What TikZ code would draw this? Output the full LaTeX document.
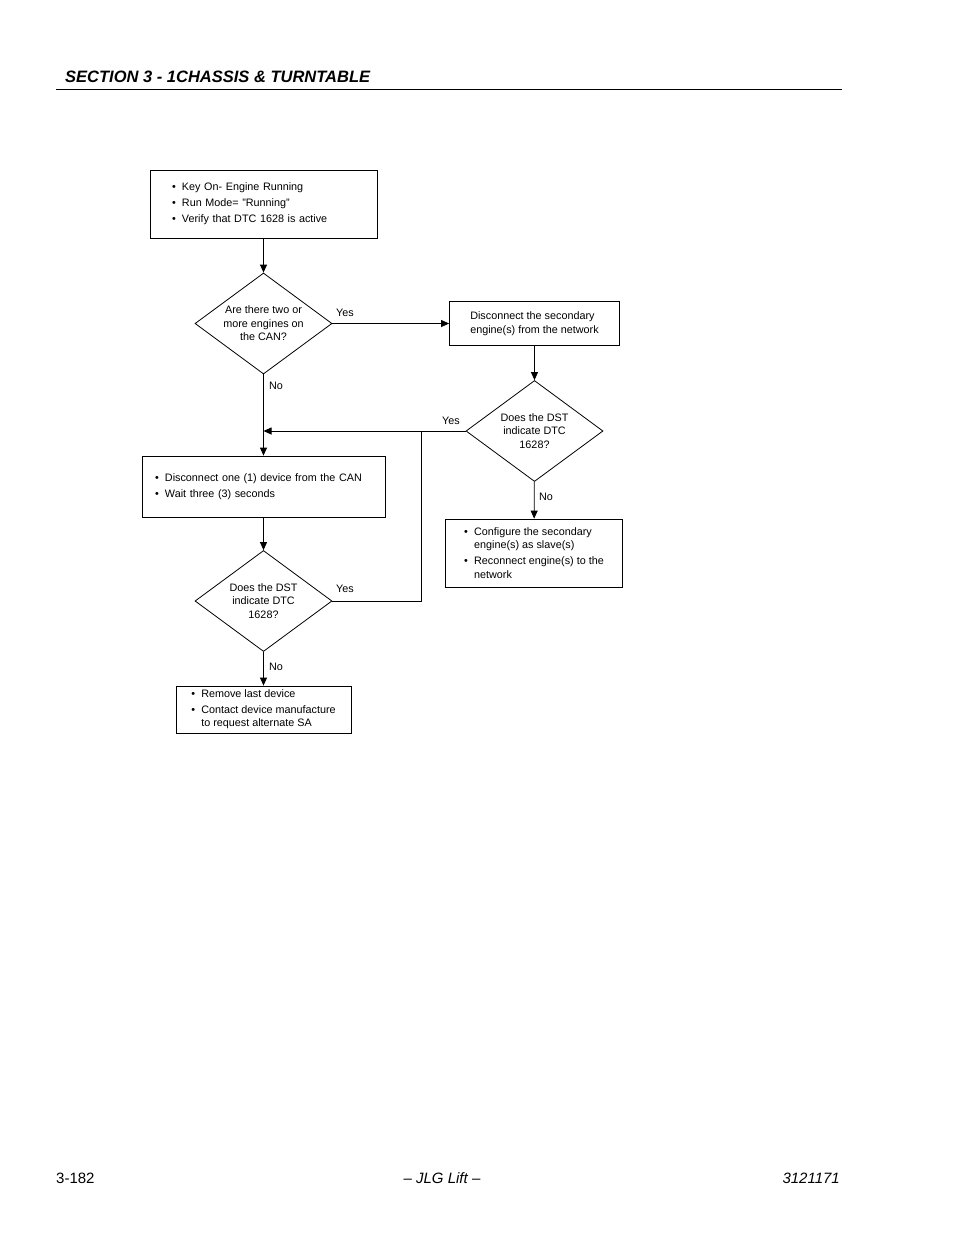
\documentclass[tikz,border=0pt]{standalone}
\usepackage{fontspec}
\setmainfont{Liberation Sans}
\usetikzlibrary{shapes.geometric,arrows.meta}
\newcommand{\bul}{\makebox[10pt][l]{\textbullet}}
\newcommand{\ind}{\hspace*{10pt}}

\begin{document}
\begin{tikzpicture}[x=1pt,y=-1pt,
	every node/.style={font=\fontsize{10.8}{13.5}\selectfont},
	box/.style={draw,line width=0.8pt,align=left,inner ysep=0pt},
	decision/.style={draw,diamond,line width=0.8pt,align=center,inner sep=0pt,aspect=1.37,minimum width=137,minimum height=101},
	flow/.style={line width=0.8pt,-{Triangle[length=8pt,width=7pt]}},
	plain/.style={line width=0.8pt},
	pagetext/.style={inner sep=0pt,font=\fontsize{15}{17}\selectfont}]
	\fill[white] (0,0) rectangle (954,1235);
	\useasboundingbox (0,0) rectangle (954,1235);

	% page head and foot
	\node[anchor=base west,inner sep=0pt,font=\fontsize{16.5}{18}\selectfont\bfseries\itshape] (title) at (65,82) {SECTION 3 - 1CHASSIS \& TURNTABLE};
	\draw[line width=1pt] (56,89) -- (842,89);
	\node[pagetext,anchor=base west] (page) at (56,1183) {3-182};
	\node[pagetext,anchor=base,font=\fontsize{15}{17}\selectfont\itshape] (maker) at (442,1183) {-- JLG Lift --};
	\node[pagetext,anchor=base east,font=\fontsize{15}{17}\selectfont\itshape] (docno) at (840,1183) {3121171};

	% boxes
	\node[box,text width=183,inner xsep=22,minimum height=68] (start) at (263.5,204)
		{\bul Key On- Engine Running\\[2.5pt]\bul Run Mode= "Running"\\[2.5pt]\bul Verify that DTC 1628 is active};
	\node[decision] (engines) at (263.5,323.5) {Are there two or\\more engines on\\the CAN?};
	\node[box,minimum width=170,minimum height=44] (discsec) at (534.5,323.5)
		{Disconnect the secondary\\engine(s) from the network};
	\node[decision] (dstone) at (534.5,431) {Does the DST\\indicate DTC\\1628?};
	\node[box,text width=217,inner xsep=13,minimum height=61] (discdev) at (263.5,486.5)
		{\bul Disconnect one (1) device from the CAN\\[2.5pt]\bul Wait three (3) seconds};
	\node[box,minimum width=177,minimum height=68] (config) at (534,553)
		{\bul Configure the secondary\\\ind engine(s) as slave(s)\\[2.5pt]\bul Reconnect engine(s) to the\\\ind network};
	\node[decision] (dsttwo) at (263.5,601) {Does the DST\\indicate DTC\\1628?};
	\node[box,minimum width=175,minimum height=47] (remove) at (263.5,709.5)
		{\bul Remove last device\\[2pt]\bul Contact device manufacture\\\ind to request alternate SA};

	\coordinate (join) at (263.5,431);
	\coordinate (loop) at (421,431);

	% connectors
	\draw[flow] (start) -- (engines);
	\draw[flow] (engines) -- (discsec);
	\draw[flow] (discsec) -- (dstone);
	\draw[flow] (dstone.west) -- (join);
	\draw[flow] (engines) -- (discdev);
	\draw[flow] (dstone) -- (config);
	\draw[flow] (discdev) -- (dsttwo);
	\draw[plain] (dsttwo.east) -| (loop);
	\draw[flow] (dsttwo) -- (remove);

	\node at (345,313) {Yes};
	\node at (451,421) {Yes};
	\node at (276,386) {No};
	\node at (546,497) {No};
	\node at (345,589) {Yes};
	\node at (276,667) {No};

\end{tikzpicture}
\end{document}
